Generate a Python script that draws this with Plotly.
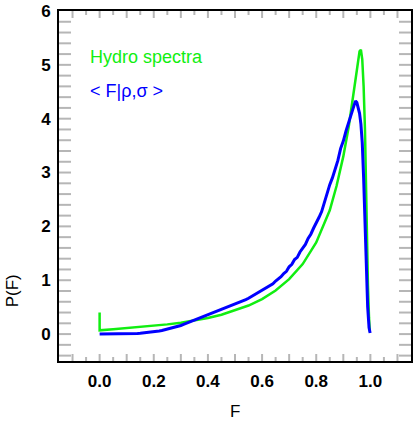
import plotly.graph_objects as go

# Green: "Hydro spectra"
green_F = [0.0, 0.0, 0.05, 0.10, 0.15, 0.20, 0.25, 0.30, 0.35, 0.40, 0.45, 0.50, 0.55,
           0.60, 0.65, 0.70, 0.75, 0.80, 0.85, 0.875, 0.90, 0.92, 0.94, 0.95, 0.96,
           0.965, 0.97, 0.975, 0.98, 0.983, 0.987, 0.991, 0.995, 0.998]
green_P = [0.40, 0.07, 0.09, 0.11, 0.13, 0.155, 0.18, 0.21, 0.25, 0.30, 0.36, 0.44, 0.53,
           0.65, 0.81, 1.02, 1.30, 1.70, 2.30, 2.75, 3.30, 3.85, 4.50, 4.90, 5.25,
           5.28, 5.10, 4.60, 3.80, 2.80, 1.80, 0.90, 0.30, 0.05]

# Blue: "< F|rho,sigma >"
blue_F = [0.00, 0.01, 0.02, 0.03, 0.04, 0.05, 0.06, 0.07, 0.08, 0.09, 0.10,
          0.11, 0.12, 0.13, 0.14, 0.15, 0.16, 0.17, 0.18, 0.19, 0.20,
          0.21, 0.22, 0.23, 0.24, 0.25, 0.26, 0.27, 0.28, 0.29, 0.30,
          0.31, 0.32, 0.33, 0.34, 0.35, 0.36, 0.37, 0.38, 0.39, 0.40,
          0.41, 0.42, 0.43, 0.44, 0.45, 0.46, 0.47, 0.48, 0.49, 0.50,
          0.51, 0.52, 0.53, 0.54, 0.55, 0.56, 0.57, 0.58, 0.59, 0.60,
          0.61, 0.62, 0.63, 0.64, 0.65, 0.66, 0.67, 0.68, 0.69, 0.70,
          0.71, 0.72, 0.73, 0.74, 0.75, 0.76, 0.77, 0.78, 0.79, 0.80,
          0.81, 0.82, 0.83, 0.84, 0.85, 0.86, 0.87, 0.88, 0.89, 0.90,
          0.91, 0.92, 0.93, 0.94, 0.945, 0.95, 0.955, 0.96, 0.965, 0.97,
          0.975, 0.98, 0.985, 0.99, 0.995, 0.999]
blue_P = [0.000, 0.000, 0.000, 0.000, 0.000, 0.000, 0.001, 0.001, 0.002, 0.003, 0.004,
          0.005, 0.007, 0.009, 0.012, 0.016, 0.020, 0.025, 0.030, 0.035, 0.042,
          0.050, 0.058, 0.066, 0.078, 0.090, 0.100, 0.115, 0.130, 0.145, 0.160,
          0.180, 0.200, 0.215, 0.240, 0.260, 0.275, 0.290, 0.315, 0.335, 0.360,
          0.375, 0.395, 0.415, 0.435, 0.450, 0.480, 0.490, 0.520, 0.530, 0.555,
          0.570, 0.595, 0.620, 0.640, 0.665, 0.695, 0.715, 0.745, 0.780, 0.805,
          0.835, 0.865, 0.905, 0.935, 0.985, 1.025, 1.065, 1.125, 1.165, 1.250,
          1.295, 1.385, 1.425, 1.525, 1.595, 1.665, 1.775, 1.855, 1.965, 2.055,
          2.165, 2.275, 2.445, 2.585, 2.775, 2.905, 3.075, 3.225, 3.445, 3.585,
          3.775, 3.925, 4.075, 4.225, 4.330, 4.300, 4.220, 4.100, 3.900, 3.550,
          2.900, 2.100, 1.200, 0.500, 0.120, 0.020]

# axis labels
x_label_vals = [0.0, 0.2, 0.4, 0.6, 0.8, 1.0]
x_label_text = ["0.0", "0.2", "0.4", "0.6", "0.8", "1.0"]
y_label_vals = [0, 1, 2, 3, 4, 5, 6]
y_label_text = ["0", "1", "2", "3", "4", "5", "6"]
# tick mark positions
x_major_ticks = [-0.1, 0.0, 0.1, 0.2, 0.3, 0.4, 0.5, 0.6, 0.7, 0.8, 0.9, 1.0, 1.1]
x_minor_ticks = [-0.05, 0.05, 0.15, 0.25, 0.35, 0.45, 0.55, 0.65, 0.75, 0.85, 0.95, 1.05]
y_ticks = [-0.4, -0.2, 0, 0.2, 0.4, 0.6, 0.8, 1, 1.2, 1.4, 1.6, 1.8, 2, 2.2, 2.4, 2.6,
           2.8, 3, 3.2, 3.4, 3.6, 3.8, 4, 4.2, 4.4, 4.6, 4.8, 5, 5.2, 5.4, 5.6, 5.8]

GREEN = "#11ee11"
BLUE = "#0000ff"
TICK = "#111111"
FONT = "Liberation Sans, Arial, sans-serif"

fig = go.Figure()
fig.add_trace(go.Scatter(x=green_F, y=green_P, mode="lines",
                         line=dict(color=GREEN, width=2.5), showlegend=False))
fig.add_trace(go.Scatter(x=blue_F, y=blue_P, mode="lines",
                         line=dict(color=BLUE, width=3), showlegend=False))

L, R, T, B = 59, 2, 6, 74
PW, PH = 415 - L - R, 435 - T - B

fig.update_layout(
    template="simple_white",
    width=415, height=435,
    margin=dict(l=L, r=R, t=T, b=B),
    showlegend=False,
)
fig.update_xaxes(range=[-0.15, 1.15], tickvals=x_label_vals, ticktext=x_label_text,
                 ticks="", showline=True, linecolor="black", linewidth=2, mirror=True,
                 showgrid=False, zeroline=False,
                 ticklabelstandoff=4, ticklabeloverflow="allow",
                 tickfont=dict(family=FONT, size=17, color="black", weight="bold"))
fig.update_yaxes(range=[-0.5, 6], tickvals=y_label_vals, ticktext=y_label_text,
                 ticks="", showline=True, linecolor="black", linewidth=2, mirror=True,
                 showgrid=False, zeroline=False,
                 ticklabelstandoff=3, ticklabeloverflow="allow",
                 tickfont=dict(family=FONT, size=17, color="black", weight="bold"))

shapes = []
for vals, length in ((x_major_ticks, 7), (x_minor_ticks, 4)):
    for v in vals:
        for anchor, sgn in ((0, 1), (1, -1)):
            shapes.append(dict(type="line", xref="x", yref="paper", x0=v, x1=v,
                               ysizemode="pixel", yanchor=anchor, y0=0, y1=sgn * length,
                               line=dict(color=TICK, width=2), layer="above"))
for v in y_ticks:
    for anchor, sgn in ((0, 1), (1, -1)):
        shapes.append(dict(type="line", xref="paper", yref="y", y0=v, y1=v,
                           xsizemode="pixel", xanchor=anchor, x0=0, x1=sgn * 12,
                           line=dict(color=TICK, width=2), layer="above"))
fig.update_layout(shapes=shapes)

fig.add_annotation(text="F", x=(236 - L) / PW, y=-(412 - (T + PH)) / PH,
                   xref="paper", yref="paper", showarrow=False,
                   xanchor="center", yanchor="middle",
                   font=dict(family=FONT, size=17, color="black"))
fig.add_annotation(text="P(F)", x=-(L - 12) / PW, y=((T + PH) - 290) / PH,
                   xref="paper", yref="paper", showarrow=False, textangle=-90,
                   xanchor="center", yanchor="middle",
                   font=dict(family=FONT, size=17, color="black"))
fig.add_annotation(text="Hydro spectra", x=(88 - L) / PW, y=((T + PH) - 53) / PH,
                   xref="paper", yref="paper", xanchor="left", yanchor="middle",
                   showarrow=False, font=dict(family=FONT, size=18, color=GREEN))
fig.add_annotation(text="< F|ρ,σ >", x=(88 - L) / PW, y=((T + PH) - 87) / PH,
                   xref="paper", yref="paper", xanchor="left", yanchor="middle",
                   showarrow=False, font=dict(family=FONT, size=18, color=BLUE))

fig.write_html("out.html", config={"displayModeBar": False},
               post_script="document.body.style.margin='0';")
